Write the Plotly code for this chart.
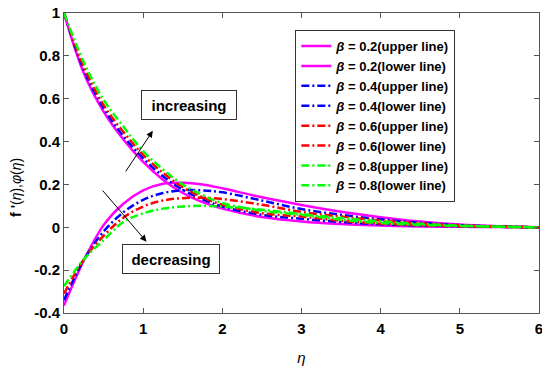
import plotly.graph_objects as go

eta = [0, 0.25, 0.5, 0.75, 1.0, 1.25, 1.5, 1.75, 2.0, 2.5, 3.0, 3.5, 4.0, 4.5, 5.0, 5.5, 6.0]

# upper lines f'(eta)
up_02 = [1.0, 0.72, 0.54, 0.41, 0.305, 0.222, 0.16, 0.117, 0.087, 0.048, 0.027, 0.015, 0.008, 0.004, 0.002, 0.001, 0.0]
up_04 = [1.0, 0.735, 0.555, 0.425, 0.322, 0.238, 0.175, 0.13, 0.097, 0.058, 0.04, 0.024, 0.014, 0.008, 0.004, 0.002, 0.0]
up_06 = [1.0, 0.75, 0.57, 0.445, 0.338, 0.254, 0.187, 0.14, 0.105, 0.066, 0.05, 0.03, 0.017, 0.009, 0.005, 0.002, 0.0]
up_08 = [1.0, 0.77, 0.595, 0.47, 0.355, 0.27, 0.2, 0.15, 0.113, 0.077, 0.058, 0.035, 0.02, 0.011, 0.006, 0.003, 0.0]

# lower lines phi(eta)
lo_02 = [-0.365, -0.155, 0.01, 0.11, 0.172, 0.203, 0.208, 0.2, 0.182, 0.14, 0.104, 0.072, 0.047, 0.027, 0.013, 0.005, 0.0]
lo_04 = [-0.34, -0.152, -0.02, 0.07, 0.128, 0.16, 0.173, 0.172, 0.163, 0.125, 0.085, 0.058, 0.037, 0.021, 0.01, 0.004, 0.0]
lo_06 = [-0.31, -0.15, -0.04, 0.045, 0.097, 0.125, 0.136, 0.138, 0.132, 0.105, 0.072, 0.05, 0.032, 0.018, 0.009, 0.003, 0.0]
lo_08 = [-0.275, -0.15, -0.06, 0.025, 0.065, 0.087, 0.097, 0.1, 0.097, 0.082, 0.062, 0.043, 0.028, 0.016, 0.008, 0.003, 0.0]

betas = ["0.2", "0.4", "0.6", "0.8"]
colors = ["#FF00FF", "#0000FF", "#FF0000", "#00FF00"]
dashes = ["solid", "8px,3px,2px,3px", "8px,3px,2px,3px", "8px,3px,2px,3px"]
uppers = [up_02, up_04, up_06, up_08]
lowers = [lo_02, lo_04, lo_06, lo_08]

FONT = "Liberation Sans, Arial, sans-serif"

fig = go.Figure()
for b, c, d, u, l in zip(betas, colors, dashes, uppers, lowers):
    fig.add_trace(go.Scatter(x=eta, y=u, mode="lines", line=dict(color=c, width=2.5, dash=d, shape="spline"),
                             name=f"<i>β</i> = {b}(upper line)"))
    fig.add_trace(go.Scatter(x=eta, y=l, mode="lines", line=dict(color=c, width=2.5, dash=d, shape="spline"),
                             name=f"<i>β</i> = {b}(lower line)"))

axis_common = dict(showline=True, linecolor="#555555", linewidth=1, mirror="allticks", ticks="inside",
                   ticklen=5, tickcolor="#555555", showgrid=False, zeroline=False, automargin=False,
                   ticklabeloverflow="allow",
                   tickfont=dict(family=FONT, size=15, color="black", weight="bold"))

fig.update_xaxes(range=[0, 6], tickvals=[0, 1, 2, 3, 4, 5, 6], **axis_common, ticklabelstandoff=2,
                 title=dict(text="<i>η</i>", font=dict(family=FONT, size=15, color="black"), standoff=16))
fig.update_yaxes(range=[-0.4, 1], tickvals=[-0.4, -0.2, 0, 0.2, 0.4, 0.6, 0.8, 1],
                 ticktext=["-0.4", "-0.2", "0", "0.2", "0.4", "0.6", "0.8", "1"], **axis_common)

ann = []
# y-axis title
ann.append(dict(x=-0.101, y=0.417, xref="paper", yref="paper", xanchor="center", yanchor="middle",
                text="<b>f '</b>(<i>η</i>),<i>φ</i>(<i>η</i>)", textangle=-90, showarrow=False,
                font=dict(family=FONT, size=14, color="black")))
# arrows
ann.append(dict(x=1.121, y=0.45, ax=0.767, ay=0.254, xref="x", yref="y", axref="x", ayref="y",
                text="", showarrow=True, arrowhead=2, arrowsize=1.3, arrowwidth=1, arrowcolor="black"))
ann.append(dict(x=1.042, y=-0.067, ax=0.473, ay=0.178, xref="x", yref="y", axref="x", ayref="y",
                text="", showarrow=True, arrowhead=2, arrowsize=1.3, arrowwidth=1, arrowcolor="black"))
ann.append(dict(x=1.583, y=0.569, xref="x", yref="y", text="<b>increasing</b>", showarrow=False,
                font=dict(family=FONT, size=15, color="black"), bgcolor="white", bordercolor="#333333",
                borderwidth=1, borderpad=3, width=88, height=22))
ann.append(dict(x=1.355, y=-0.146, xref="x", yref="y", text="<b>decreasing</b>", showarrow=False,
                font=dict(family=FONT, size=15, color="black"), bgcolor="white", bordercolor="#333333",
                borderwidth=1, borderpad=3, width=90, height=22))

# page body has an 8px margin, so the figure is sized/offset to land the plot area where the reference has it
fig.update_layout(
    width=542, height=363,
    margin=dict(l=56, r=11, t=5, b=58),
    paper_bgcolor="white", plot_bgcolor="white",
    showlegend=True,
    legend=dict(x=0.487, y=0.943, xanchor="left", yanchor="top", bgcolor="white",
                bordercolor="#333333", borderwidth=1,
                font=dict(family=FONT, size=13, color="black", weight="bold"),
                itemwidth=30, tracegroupgap=0),
    annotations=ann,
)

fig.write_html("out.html")
